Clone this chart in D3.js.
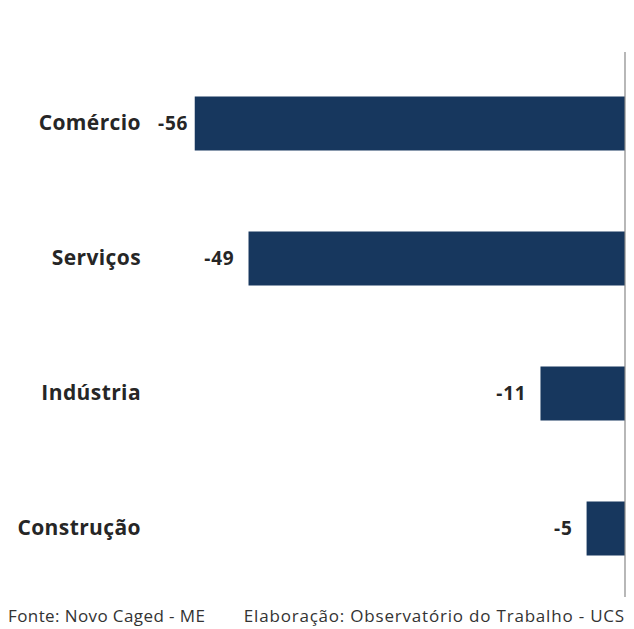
<!DOCTYPE html>
<html>
<head>
<meta charset="utf-8">
<script src="https://d3js.org/d3.v7.min.js"></script>
<style>
  body { margin: 0; background: #fff; overflow: hidden; }
</style>
</head>
<body>
<div id="container"></div>
<script>
var categories = ["Comércio", "Serviços", "Indústria", "Construção"];
var values = [-56, -49, -11, -5];
var footLeft = "Fonte: Novo Caged - ME";
var footRight = "Elaboração: Observatório do Trabalho - UCS";

var width = 634, height = 629;
var plotLeft = 158;
var font = "'Open Sans', sans-serif";

var svg = d3.select("#container").append("svg")
    .attr("width", width)
    .attr("height", height)
    .style("display", "block")
    .style("font-family", font);

var x = d3.scaleLinear().domain([-60, 0]).range([164, 625]);
var y = d3.scaleBand().domain(categories).range([56, 596])
    .paddingInner(0.6).paddingOuter(0.3);

var data = categories.map(function(c, i) { return {cat: c, val: values[i]}; });

svg.selectAll("rect.bar")
    .data(data)
    .enter()
    .append("rect")
    .attr("class", "bar")
    .attr("x", function(d) { return x(d.val); })
    .attr("y", function(d) { return y(d.cat); })
    .attr("width", function(d) { return x(0) - x(d.val); })
    .attr("height", y.bandwidth())
    .attr("fill", "#17375e");

// zero axis line
svg.append("line")
    .attr("x1", x(0)).attr("x2", x(0))
    .attr("y1", 52).attr("y2", 597)
    .attr("stroke", "#888")
    .attr("stroke-width", 1.2);

// category labels
var catAxis = svg.append("g")
    .attr("transform", "translate(141,0)")
    .call(d3.axisLeft(y).tickSize(0).tickPadding(0));
catAxis.select(".domain").remove();
catAxis.selectAll("text")
    .style("font-family", font)
    .style("font-size", "21px")
    .style("font-weight", "bold")
    .style("letter-spacing", "0.4px")
    .attr("fill", "#262626");

// value labels
svg.selectAll("text.val")
    .data(data)
    .enter()
    .append("text")
    .attr("class", "val")
    .attr("x", function(d) { return x(d.val) - 14; })
    .attr("y", function(d) { return y(d.cat) + y.bandwidth() / 2; })
    .attr("dy", "0.35em")
    .attr("text-anchor", "end")
    .style("font-size", "19px")
    .style("font-weight", "bold")
    .style("letter-spacing", "0.8px")
    .attr("fill", "#262626")
    .text(function(d) { return d.val; })
    .each(function(d) {
        var w = this.getComputedTextLength();
        if (x(d.val) - 14 - w < plotLeft) {
            d3.select(this).attr("text-anchor", "start").attr("x", plotLeft);
        }
    });

svg.append("text")
    .attr("x", 8).attr("y", 622)
    .style("font-size", "17px")
    .style("letter-spacing", "0.4px")
    .attr("fill", "#333")
    .text(footLeft);

svg.append("text")
    .attr("x", 625).attr("y", 622)
    .attr("text-anchor", "end")
    .style("font-size", "17px")
    .style("letter-spacing", "0.8px")
    .attr("fill", "#333")
    .text(footRight);
</script>
</body>
</html>
